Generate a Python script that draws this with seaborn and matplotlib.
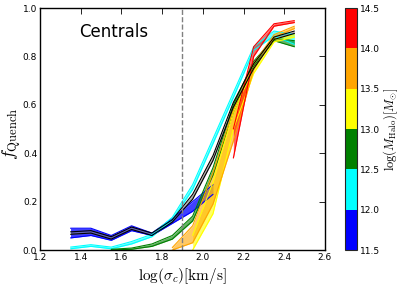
import numpy as np
import pandas as pd
import matplotlib
matplotlib.use("Agg")
import matplotlib.pyplot as plt
import matplotlib.colors as mcolors
import seaborn as sns

# -------------------------------
# Data
# -------------------------------
sigma = [1.35, 1.45, 1.55, 1.65, 1.75, 1.85, 1.95, 2.05, 2.15, 2.25, 2.35, 2.45]

halo_bins = ["11.5-12.0", "12.0-12.5", "12.5-13.0", "13.0-13.5", "13.5-14.0", "14.0-14.5"]
halo_colors = ["blue", "cyan", "green", "yellow", "orange", "red"]
halo_edges = [11.5, 12.0, 12.5, 13.0, 13.5, 14.0, 14.5]

blue_lo = [0.05, 0.06, 0.04, 0.08, 0.06, 0.11, 0.16, 0.23]
blue_hi = [0.09, 0.09, 0.06, 0.10, 0.07, 0.13, 0.20, 0.27]

cyan_lo = [0.005, 0.015, 0.005, 0.025, 0.055, 0.125, 0.25, 0.44, 0.63, 0.825, 0.885, 0.85]
cyan_hi = [0.012, 0.022, 0.012, 0.035, 0.065, 0.135, 0.27, 0.46, 0.65, 0.84, 0.905, 0.89]

green_lo = [0.0, 0.003, 0.015, 0.045, 0.12, 0.31, 0.57, 0.76, 0.865, 0.84]
green_hi = [0.003, 0.008, 0.025, 0.06, 0.14, 0.34, 0.60, 0.78, 0.875, 0.865]

yellow_lo = [0.0, 0.15, 0.50, 0.73, 0.86, 0.88]
yellow_hi = [0.06, 0.28, 0.57, 0.75, 0.87, 0.89]

orange_lo = [0.0, 0.03, 0.19, 0.45, 0.745, 0.88, 0.915]
orange_hi = [0.01, 0.10, 0.32, 0.58, 0.77, 0.89, 0.925]

red_lo = [0.38, 0.80, 0.925, 0.94]
red_hi = [0.50, 0.84, 0.935, 0.948]

all_lo = [0.065, 0.07, 0.045, 0.085, 0.06, 0.115, 0.21, 0.37, 0.59, 0.75, 0.87, 0.895]
all_hi = [0.075, 0.08, 0.055, 0.095, 0.07, 0.125, 0.23, 0.39, 0.61, 0.77, 0.88, 0.905]

# which sigma bins each halo bin covers (start index into sigma)
bands = {
    "11.5-12.0": (0, blue_lo, blue_hi),
    "12.0-12.5": (0, cyan_lo, cyan_hi),
    "12.5-13.0": (2, green_lo, green_hi),
    "13.0-13.5": (6, yellow_lo, yellow_hi),
    "13.5-14.0": (5, orange_lo, orange_hi),
    "14.0-14.5": (8, red_lo, red_hi),
}

rows = []
for name, (i0, lo, hi) in bands.items():
    for k in range(len(lo)):
        rows.append({"sigma": sigma[i0 + k], "frac": lo[k], "bin": name, "edge": "lo"})
        rows.append({"sigma": sigma[i0 + k], "frac": hi[k], "bin": name, "edge": "hi"})
df = pd.DataFrame(rows)

# -------------------------------
# Style
# -------------------------------
sns.set_style("white")
plt.rcParams["font.family"] = ["DejaVu Sans"]
plt.rcParams["mathtext.fontset"] = "cm"
plt.rcParams["xtick.direction"] = "in"
plt.rcParams["ytick.direction"] = "in"
plt.rcParams["text.color"] = "black"
plt.rcParams["axes.labelcolor"] = "black"
plt.rcParams["xtick.color"] = "black"
plt.rcParams["ytick.color"] = "black"

fig = plt.figure(figsize=(4.07, 2.85), dpi=100)
ax = fig.add_axes([0.0983, 0.1228, 0.700, 0.849])
cax = fig.add_axes([0.848, 0.1228, 0.029, 0.849])

palette = dict(zip(halo_bins, halo_colors))

# filled bands
for name, (i0, lo, hi) in bands.items():
    xs = sigma[i0:i0 + len(lo)]
    a = 0.75 if name == "11.5-12.0" else 0.6
    ax.fill_between(xs, lo, hi, color=palette[name], alpha=a, lw=0)

# band edges
sns.lineplot(data=df, x="sigma", y="frac", hue="bin", units="edge",
             estimator=None, palette=palette, lw=0.8, legend=False, ax=ax)

# all centrals
ax.fill_between(sigma, all_lo, all_hi, color="gray", alpha=0.6, lw=0)
sns.lineplot(x=sigma, y=all_lo, color="black", lw=0.8, ax=ax)
sns.lineplot(x=sigma, y=all_hi, color="black", lw=0.8, ax=ax)

ax.axvline(1.9, color="gray", ls="--", lw=1)

ax.set_xlim(1.2, 2.6)
ax.set_ylim(0, 1.0)
ax.set_xticks(np.arange(1.2, 2.61, 0.2))
ax.set_yticks(np.arange(0, 1.01, 0.2))
ax.tick_params(labelsize=6.5, top=True, right=True, length=4, width=0.6, pad=2)
for s in ax.spines.values():
    s.set_color("black")
    s.set_linewidth(1)

ax.set_xlabel(r"$\log(\sigma_c)[{\rm km/s}]$", fontsize=11)
ax.set_ylabel(r"$f_{\rm Quench}$", fontsize=13)
ax.xaxis.set_label_coords(0.5, -0.065)
ax.yaxis.set_label_coords(-0.06, 0.48)
ax.text(1.56, 0.9, "Centrals", fontsize=12, ha="center", va="center")

# colorbar
cmap = mcolors.ListedColormap(halo_colors)
norm = mcolors.BoundaryNorm(halo_edges, cmap.N)
sm = matplotlib.cm.ScalarMappable(norm=norm, cmap=cmap)
cb = fig.colorbar(sm, cax=cax, ticks=halo_edges)
cb.ax.tick_params(labelsize=6.5, length=0, pad=2)
cb.ax.set_yticklabels([f"{v:.1f}" for v in halo_edges])
cb.set_label(r"$\log(M_{\rm Halo})[M_{\odot}]$", fontsize=9, labelpad=1)
cb.outline.set_linewidth(0.8)

plt.savefig("out.png", dpi=100)
